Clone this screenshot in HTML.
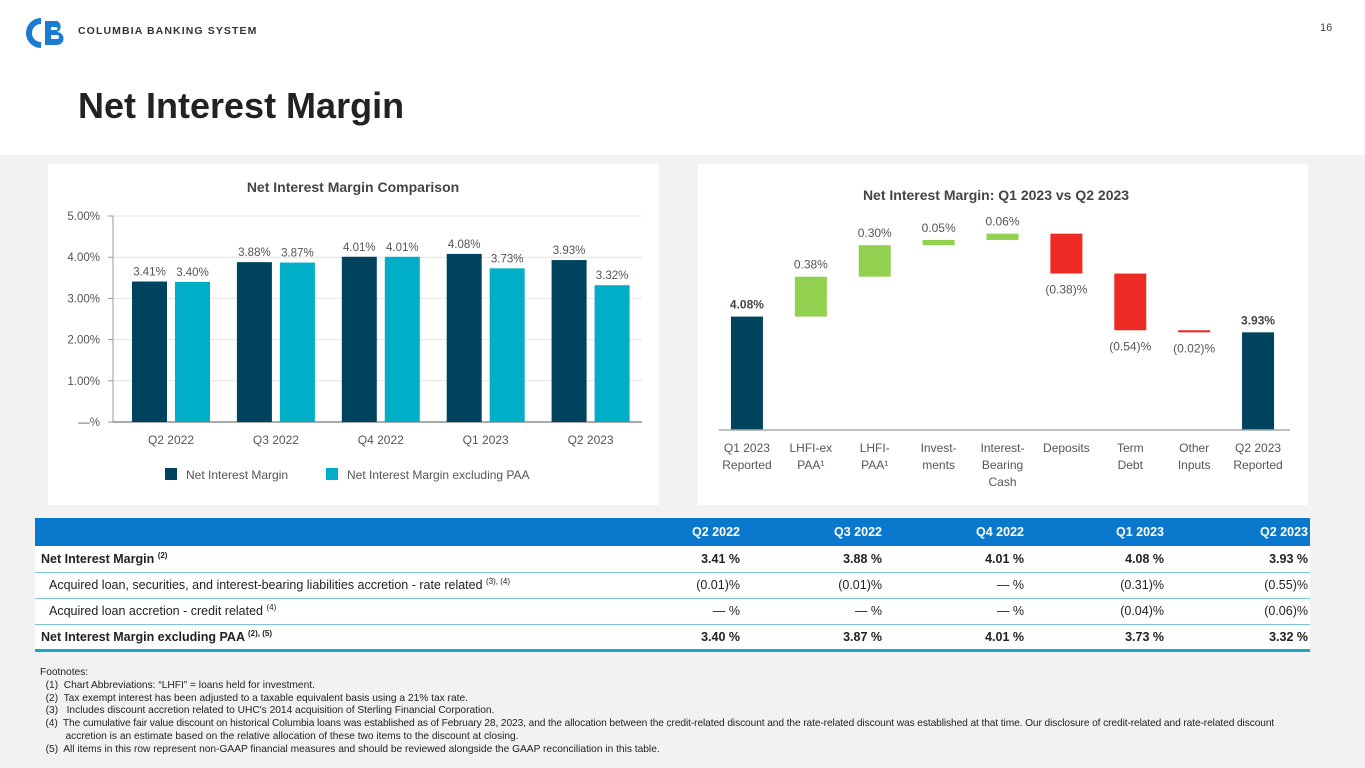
<!DOCTYPE html>
<html><head><meta charset="utf-8">
<style>
*{margin:0;padding:0;box-sizing:border-box}
body{width:1365px;height:768px;overflow:hidden;background:#f2f2f2;font-family:"Liberation Sans",sans-serif;color:#222;position:relative}
#hdr{position:absolute;left:0;top:0;width:1365px;height:155px;background:#fff}
.abs{position:absolute}
table{border-collapse:collapse;table-layout:fixed}
#tbl{position:absolute;left:35px;top:518px;width:1275px;font-size:12.5px;background:#fff}
#tbl th{background:#0a78cc;color:#fff;height:28px;text-align:right;font-weight:bold;padding-right:2px}
#tbl td{height:26px;border-bottom:1px solid #7cc9d6;text-align:right;padding-right:2px;white-space:nowrap}
#tbl td:first-child{text-align:left;padding-left:6px}
#tbl tr.b td{font-weight:bold}
#tbl tr.i td:first-child{padding-left:14px}
#tbl tr.last td{border-bottom:3px solid #17a9c4}
sup{font-size:8px}
#fn{position:absolute;left:40px;top:667px;font-size:10.2px;line-height:12.8px;color:#222}
#fn div{white-space:nowrap}
</style></head><body>
<div id="hdr"></div>
<svg class="abs" style="left:25px;top:18px" width="45" height="30">
<path d="M16 3 A12 12 0 1 0 16 27" fill="none" stroke="#1a7bd1" stroke-width="6"/>
<path d="M20 3 h12 a6 6 0 0 1 0 11 a6.5 6.5 0 0 1 0 13 h-12 z M26 9 v3 h5 a1.5 1.5 0 0 0 0-3z M26 17 v4 h6 a2 2 0 0 0 0-4z" fill="#1a7bd1" fill-rule="evenodd"/>
</svg>
<div class="abs" style="left:78px;top:25px;font-size:10.5px;font-weight:bold;letter-spacing:1.1px;color:#333">COLUMBIA BANKING SYSTEM</div>
<div class="abs" style="left:1320px;top:22px;font-size:11px;color:#444">16</div>
<div class="abs" style="left:78px;top:85px;font-size:36px;font-weight:bold;color:#222">Net Interest Margin</div>

<svg class="abs" style="left:48px;top:164px" width="611" height="341" id="c1"></svg>
<svg class="abs" style="left:698px;top:164px" width="610" height="341" id="c2"></svg>

<table id="tbl">
<colgroup><col style="width:566px"><col style="width:141px"><col style="width:142px"><col style="width:142px"><col style="width:140px"><col style="width:144px"></colgroup>
<tr><th style="text-align:left"></th><th>Q2 2022</th><th>Q3 2022</th><th>Q4 2022</th><th>Q1 2023</th><th>Q2 2023</th></tr>
<tr class="b"><td>Net Interest Margin <sup>(2)</sup></td><td>3.41 %</td><td>3.88 %</td><td>4.01 %</td><td>4.08 %</td><td>3.93 %</td></tr>
<tr class="i"><td>Acquired loan, securities, and interest-bearing liabilities accretion - rate related <sup>(3), (4)</sup></td><td>(0.01)%</td><td>(0.01)%</td><td>— %</td><td>(0.31)%</td><td>(0.55)%</td></tr>
<tr class="i"><td>Acquired loan accretion - credit related <sup>(4)</sup></td><td>— %</td><td>— %</td><td>— %</td><td>(0.04)%</td><td>(0.06)%</td></tr>
<tr class="b last"><td>Net Interest Margin excluding PAA <sup>(2), (5)</sup></td><td>3.40 %</td><td>3.87 %</td><td>4.01 %</td><td>3.73 %</td><td>3.32 %</td></tr>
</table>

<div id="fn">
<div>Footnotes:</div>
<div>&nbsp;&nbsp;(1)&nbsp; Chart Abbreviations: “LHFI” = loans held for investment.</div>
<div>&nbsp;&nbsp;(2)&nbsp; Tax exempt interest has been adjusted to a taxable equivalent basis using a 21% tax rate.</div>
<div>&nbsp;&nbsp;(3)&nbsp;&nbsp; Includes discount accretion related to UHC's 2014 acquisition of Sterling Financial Corporation.</div>
<div style="letter-spacing:-0.1px">&nbsp;&nbsp;(4)&nbsp; The cumulative fair value discount on historical Columbia loans was established as of February 28, 2023, and the allocation between the credit-related discount and the rate-related discount was established at that time. Our disclosure of credit-related and rate-related discount</div>
<div>&nbsp;&nbsp;&nbsp;&nbsp;&nbsp;&nbsp;&nbsp;&nbsp; accretion is an estimate based on the relative allocation of these two items to the discount at closing.</div>
<div>&nbsp;&nbsp;(5)&nbsp; All items in this row represent non-GAAP financial measures and should be reviewed alongside the GAAP reconciliation in this table.</div>
</div>

<script>
const quarters=["Q2 2022","Q3 2022","Q4 2022","Q1 2023","Q2 2023"];
const nimValues=[3.41,3.88,4.01,4.08,3.93];
const nimExPaaValues=[3.40,3.87,4.01,3.73,3.32];
const yTicks=[0,1,2,3,4,5];
const yTickLabels=["—%","1.00%","2.00%","3.00%","4.00%","5.00%"];

const wfCategories=[["Q1 2023","Reported"],["LHFI-ex","PAA¹"],["LHFI-","PAA¹"],["Invest-","ments"],["Interest-","Bearing","Cash"],["Deposits"],["Term","Debt"],["Other","Inputs"],["Q2 2023","Reported"]];
const wfChanges=[4.08,0.38,0.30,0.05,0.06,-0.38,-0.54,-0.02,3.93];
const wfLabels=["4.08%","0.38%","0.30%","0.05%","0.06%","(0.38)%","(0.54)%","(0.02)%","3.93%"];
const wfTypes=["total","delta","delta","delta","delta","delta","delta","delta","total"];

const NS="http://www.w3.org/2000/svg";
function mk(p,t,a,txt){const e=document.createElementNS(NS,t);for(const k in a)e.setAttribute(k,a[k]);if(txt!==undefined)e.textContent=txt;p.appendChild(e);return e;}

// Chart 1
(function(){
const s=document.getElementById('c1');
mk(s,'rect',{x:0,y:0,width:611,height:341,fill:'#fff'});
const t=mk(s,'text',{x:305,y:28,'text-anchor':'middle','font-size':14,'font-weight':'bold',fill:'#444'},'Net Interest Margin Comparison');

const x0=65,x1=594,yb=258,ppu=41.2;
const y=v=>yb-v*ppu;
const gw=104.9, first=x0+19;
yTicks.forEach((v,i)=>{
 if(v>0){const g=mk(s,'line',{x1:x0,x2:x1,y1:y(v),y2:y(v),stroke:'#e4e4e4'});}
 mk(s,'line',{x1:x0-5,x2:x0,y1:y(v),y2:y(v),stroke:'#999'});
 const l=mk(s,'text',{x:x0-13,y:y(v)+4,'text-anchor':'end','font-size':11.5,fill:'#555'},yTickLabels[i]);
 
});
mk(s,'line',{x1:x0,x2:x0,y1:y(5),y2:yb,stroke:'#999'});
mk(s,'line',{x1:x0,x2:x1,y1:yb,y2:yb,stroke:'#777','stroke-width':1.2});
quarters.forEach((q,i)=>{
 const gx=first+gw*i;
 [[nimValues[i],'#00435f',0],[nimExPaaValues[i],'#00aec8',43]].forEach(([v,col,dx],k)=>{
  const b=mk(s,'rect',{x:gx+dx,y:y(v),width:35,height:v*ppu,fill:col});
  
  const l=mk(s,'text',{x:gx+dx+17.5,y:y(v)-6,'text-anchor':'middle','font-size':11.5,fill:'#555'},v.toFixed(2)+'%');
  
 });
 const xl=mk(s,'text',{x:gx+39,y:yb+22,'text-anchor':'middle','font-size':12,fill:'#555'},q);
 
});
const lg=mk(s,'g',{});
mk(lg,'rect',{x:117,y:304,width:12,height:12,fill:'#00435f'});
mk(lg,'text',{x:138,y:315,'font-size':12,fill:'#555'},'Net Interest Margin');
mk(lg,'rect',{x:278,y:304,width:12,height:12,fill:'#00aec8'});
mk(lg,'text',{x:299,y:315,'font-size':12,fill:'#555'},'Net Interest Margin excluding PAA');
})();

// Chart 2 waterfall
(function(){
const s=document.getElementById('c2');
mk(s,'rect',{x:0,y:0,width:610,height:341,fill:'#fff'});
const t=mk(s,'text',{x:298,y:36,'text-anchor':'middle','font-size':14,'font-weight':'bold',fill:'#444'},'Net Interest Margin: Q1 2023 vs Q2 2023');

const x0=17,x1=592,yb=266,ppu=105,vmin=3.0;
const y=v=>yb-(v-vmin)*ppu;
const step=(x1-x0)/wfCategories.length;
let cum=0;
wfCategories.forEach((cat,i)=>{
 const c=x0+step*(i+0.5);const v=wfChanges[i];
 let top,bot,col;
 if(wfTypes[i]==='total'){cum=v;top=v;bot=vmin;col='#00435f';}
 else{const a=cum,b=cum+v;cum=b;top=Math.max(a,b);bot=Math.min(a,b);col=v>=0?'#92d050':'#ee2a24';}
 const h=Math.max((top-bot)*ppu,2);
 const r=mk(s,'rect',{x:c-16,y:y(top),width:32,height:h,fill:col});
 
 const neg=wfTypes[i]!=='total'&&v<0;
 const ly=neg?y(top)+h+20:y(top)-8;
 const l=mk(s,'text',{x:c,y:ly,'text-anchor':'middle','font-size':12,fill:wfTypes[i]==='total'?'#444':'#555','font-weight':wfTypes[i]==='total'?'bold':'normal'},wfLabels[i]);
 
 cat.forEach((ln,j)=>{
  const xl=mk(s,'text',{x:c,y:yb+22+j*17,'text-anchor':'middle','font-size':12,fill:'#555'},ln);
  
 });
});
mk(s,'line',{x1:x0+4,x2:x1,y1:yb,y2:yb,stroke:'#aaa','stroke-width':1.5});
})();
</script>
</body></html>
